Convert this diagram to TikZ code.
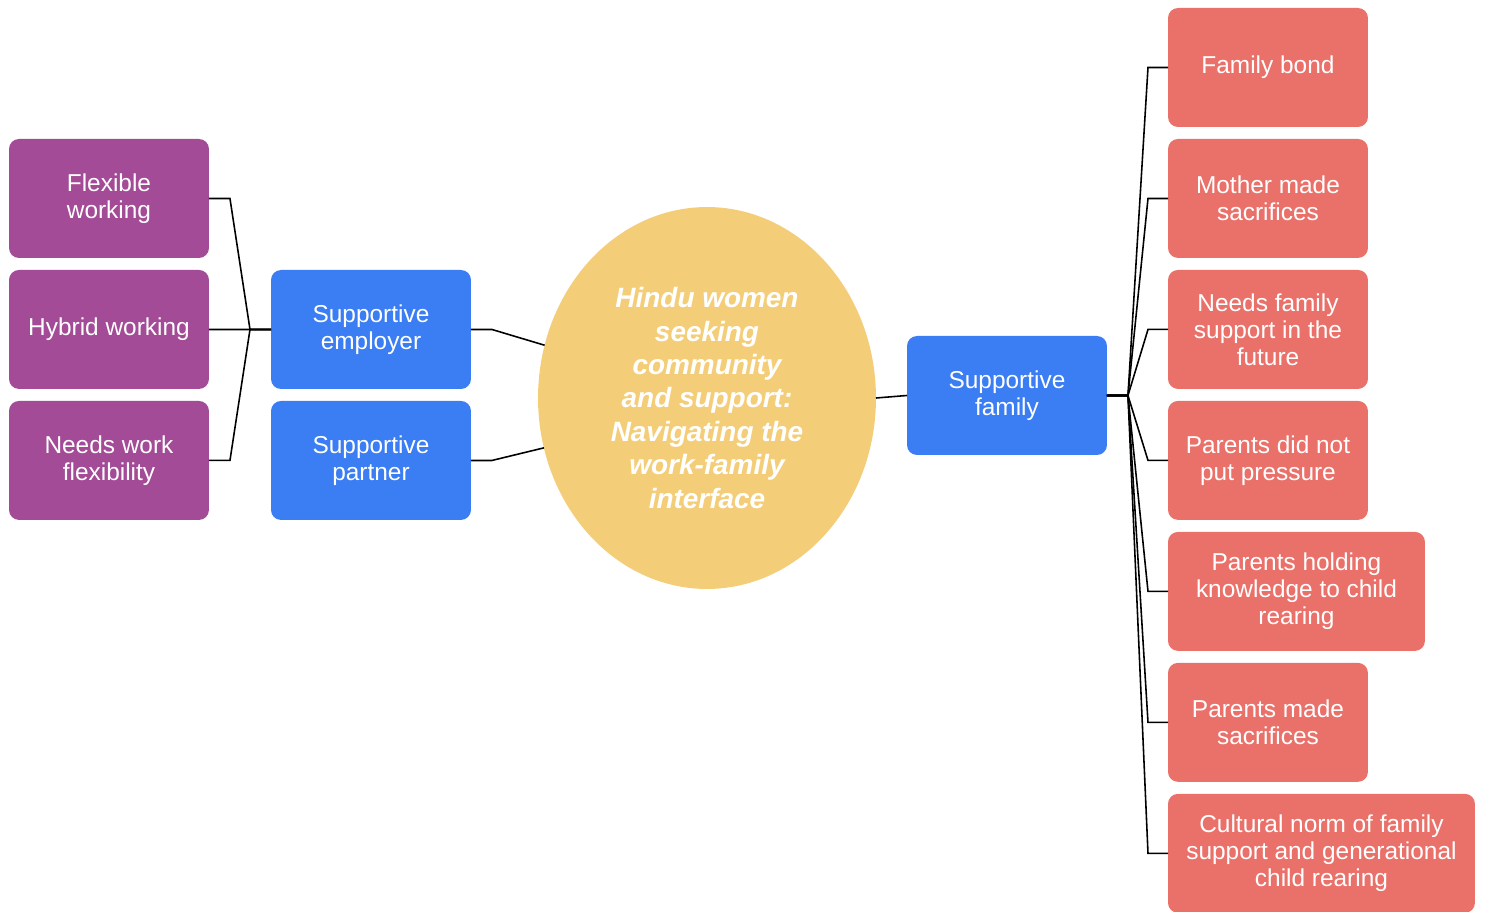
\documentclass[tikz,border=0pt]{standalone}
\usepackage{fontspec}
\setmainfont{Liberation Sans}
\usepackage{tikz}
\usetikzlibrary{positioning,shapes.geometric,calc}
\definecolor{leafpurple}{RGB}{163,75,150}
\definecolor{midblue}{RGB}{59,125,242}
\definecolor{hubyellow}{RGB}{244,205,120}
\definecolor{leafred}{RGB}{234,113,106}

\begin{document}
\begin{tikzpicture}[x=0.02cm, y=-0.02cm, node distance=0.24cm, line width=0.9pt,
  every node/.style={font=\fontsize{13.9}{15.4}\selectfont, text=white, align=center, inner sep=2pt, outer sep=0pt},
  box/.style={rounded corners=0.2cm, minimum width=4cm, minimum height=2.38cm},
  work/.style={box, fill=leafpurple},
  support/.style={box, fill=midblue},
  fam/.style={box, fill=leafred},
  hub/.style={ellipse, fill=hubyellow, minimum width=6.76cm, minimum height=7.64cm, inner sep=0pt,
    font=\fontsize{15.9}{19}\selectfont\bfseries\itshape}]
\useasboundingbox (0,0) rectangle (1485,912);
% left side
\node[work, anchor=north west] (flex) at (9,139) {Flexible\\working};
\node[work, below=of flex] (hybrid) {Hybrid working};
\node[work, below=of hybrid] (needwork) {Needs work\\flexibility};
\node[support, anchor=north west] (emp) at (271,270) {Supportive\\employer};
\node[support, below=of emp] (partner) {Supportive\\partner};
% centre
\node[hub] (hub) at (707,398) {Hindu women\\seeking\\community\\and support:\\Navigating the\\work-family\\interface};
% right side
\node[support, anchor=north west] (family) at (907,336) {Supportive\\family};
\node[fam, anchor=north west] (bond) at (1168,8) {Family bond};
\node[fam, below=of bond] (mother) {Mother made\\sacrifices};
\node[fam, below=of mother] (future) {Needs family\\support in the\\future};
\node[fam, below=of future] (pressure) {Parents did not\\put pressure};
\node[fam, below=of pressure.south west, anchor=north west, minimum width=5.14cm] (knowledge) {Parents holding\\knowledge to child\\rearing};
\node[fam, below=of knowledge.south west, anchor=north west] (made) {Parents made\\sacrifices};
\node[fam, below=of made.south west, anchor=north west, minimum width=6.14cm] (norm) {Cultural norm of family\\support and generational\\child rearing};
% connectors
\foreach \n in {flex,hybrid,needwork}
  \draw (\n.east) -- ++(21,0) -- ($(emp.west)+(-21,0)$) -- (emp.west);
\draw (emp.east) -- ++(21,0) -- (hub.162);
\draw (partner.east) -- ++(21,0) -- (hub.197);
\draw (hub.east) -- (family.west);
\foreach \n in {bond,mother,future,pressure,knowledge,made,norm}
  \draw (family.east) -- ++(21,0) -- ($(\n.west)+(-20,0)$) -- (\n.west);
\end{tikzpicture}
\end{document}
